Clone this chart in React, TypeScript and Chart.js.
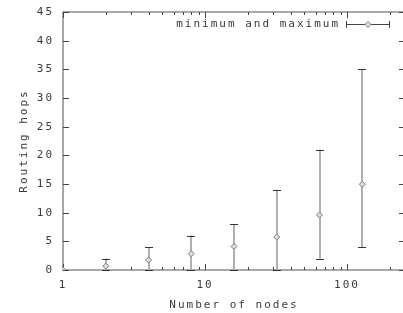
import React, { useEffect, useRef } from 'react';
import { Chart, registerables } from 'chart.js';

Chart.register(...registerables);

// ---- data ----
const nodes = [1, 2, 4, 8, 16, 32, 64, 128];
const avgHops = [0, 0.7, 1.75, 2.85, 4.1, 5.75, 9.6, 14.95];
const minHops = [0, 0, 0, 0, 0, 0, 2, 4];
const maxHops = [0, 2, 4, 6, 8, 14, 21, 35];
const xTickLabels = [1, 10, 100];
const xRange = [1, 256];
const yRange = [0, 45];
const yStep = 5;
const legendLabel = 'minimum and maximum';
const xTitle = 'Number of nodes';
const yTitle = 'Routing hops';

const FONT = '"DejaVu Sans Mono", "Liberation Mono", monospace';
const TEXT = '#3a3a3a';
const SPACING = '2px';

export default function App() {
  const ref = useRef<HTMLCanvasElement>(null);

  useEffect(() => {
    document.body.style.margin = '0';
    const canvas = ref.current!;

    const gnuPlugin = {
      id: 'gnu',
      beforeUpdate(chart: any) {
        chart.ctx.letterSpacing = SPACING;
      },
      beforeDraw(chart: any) {
        chart.ctx.letterSpacing = SPACING;
      },
      beforeDatasetsDraw(chart: any) {
        const { ctx, chartArea: a, scales } = chart;
        const x = scales.x;
        const y = scales.y;
        ctx.save();
        ctx.letterSpacing = '0px';

        // border box
        ctx.strokeStyle = '#8c8c8c';
        ctx.lineWidth = 1.5;
        ctx.strokeRect(a.left, a.top, a.right - a.left, a.bottom - a.top);

        // ticks (inward), log minor ticks on x
        ctx.strokeStyle = '#444';
        ctx.lineWidth = 1;
        ctx.beginPath();
        for (let d = 1; d <= xRange[1]; d *= 10) {
          for (let m = 1; m <= 9; m++) {
            const v = m * d;
            if (v < xRange[0] || v > xRange[1]) continue;
            const px = Math.round(x.getPixelForValue(v)) + 0.5;
            const len = m === 1 ? 6 : 3;
            ctx.moveTo(px, a.bottom);
            ctx.lineTo(px, a.bottom - len);
            ctx.moveTo(px, a.top);
            ctx.lineTo(px, a.top + len);
          }
        }
        y.ticks.forEach((t: any) => {
          const py = Math.round(y.getPixelForValue(t.value)) + 0.5;
          ctx.moveTo(a.left, py);
          ctx.lineTo(a.left + 6, py);
          ctx.moveTo(a.right, py);
          ctx.lineTo(a.right - 6, py);
        });
        ctx.stroke();

        // error bars
        nodes.forEach((n, i) => {
          if (minHops[i] === maxHops[i]) return;
          const px = Math.round(x.getPixelForValue(n));
          const y0 = y.getPixelForValue(minHops[i]);
          const y1 = y.getPixelForValue(maxHops[i]);
          ctx.strokeStyle = '#b0b0b0';
          ctx.lineWidth = 2;
          ctx.beginPath();
          ctx.moveTo(px, y0);
          ctx.lineTo(px, y1);
          ctx.stroke();
          ctx.strokeStyle = '#333';
          ctx.lineWidth = 1;
          ctx.beginPath();
          for (const yy of [y0, y1]) {
            const r = Math.round(yy) + 0.5;
            ctx.moveTo(px - 4, r);
            ctx.lineTo(px + 4, r);
          }
          ctx.stroke();
        });
        ctx.restore();
      },
      afterDraw(chart: any) {
        const { ctx } = chart;
        ctx.save();
        ctx.font = `11px ${FONT}`;
        ctx.fillStyle = TEXT;
        ctx.textBaseline = 'middle';

        // legend
        ctx.letterSpacing = SPACING;
        ctx.textAlign = 'left';
        const ly = 24;
        const lw = ctx.measureText(legendLabel).width;
        ctx.fillText(legendLabel, 338 - lw + 2, ly);
        ctx.letterSpacing = '0px';
        const l = 346, r = 390, c = (l + r) / 2;
        ctx.strokeStyle = '#444';
        ctx.lineWidth = 1;
        ctx.beginPath();
        ctx.moveTo(l, ly + 0.5);
        ctx.lineTo(r, ly + 0.5);
        ctx.moveTo(l + 0.5, ly - 3);
        ctx.lineTo(l + 0.5, ly + 4);
        ctx.moveTo(r - 0.5, ly - 3);
        ctx.lineTo(r - 0.5, ly + 4);
        ctx.stroke();
        ctx.fillStyle = '#dddddd';
        ctx.strokeStyle = '#808080';
        ctx.beginPath();
        ctx.moveTo(c - 3, ly + 0.5);
        ctx.lineTo(c, ly - 2.5);
        ctx.lineTo(c + 3, ly + 0.5);
        ctx.lineTo(c, ly + 3.5);
        ctx.closePath();
        ctx.fill();
        ctx.stroke();
        ctx.restore();
      },
    };

    const chart = new Chart(canvas, {
      type: 'scatter',
      data: {
        datasets: [
          {
            label: legendLabel,
            data: nodes.map((n, i) => ({ x: n, y: avgHops[i] })),
            pointStyle: 'rectRot',
            pointRadius: 3,
            pointBackgroundColor: '#dddddd',
            pointBorderColor: '#808080',
            pointBorderWidth: 1,
            showLine: false,
          },
        ],
      },
      options: {
        responsive: false,
        animation: false,
        events: [],
        layout: { padding: { top: 12, right: 4, left: 0, bottom: 0 } },
        plugins: {
          legend: { display: false },
          tooltip: { enabled: false },
        },
        scales: {
          x: {
            type: 'logarithmic',
            min: xRange[0],
            max: xRange[1],
            grid: { display: false, drawTicks: false },
            border: { display: false },
            afterBuildTicks: (scale: any) => {
              scale.ticks = xTickLabels.map((v) => ({ value: v, major: true }));
            },
            afterFit: (scale: any) => {
              scale.height = 43;
              scale.paddingLeft = 0;
              scale.paddingRight = 0;
            },
            ticks: {
              autoSkip: false,
              maxRotation: 0,
              padding: 9,
              color: TEXT,
              font: { family: FONT, size: 11 },
              callback: (v: any) => String(v),
            },
            title: {
              display: true,
              text: xTitle,
              color: TEXT,
              font: { family: FONT, size: 11 },
              padding: { top: 0, bottom: 1 },
            },
          },
          y: {
            min: yRange[0],
            max: yRange[1],
            grid: { display: false, drawTicks: false },
            border: { display: false },
            afterFit: (scale: any) => {
              scale.width = 63;
              scale.paddingTop = 0;
              scale.paddingBottom = 0;
            },
            ticks: {
              stepSize: yStep,
              padding: 9,
              color: TEXT,
              font: { family: FONT, size: 11 },
            },
            title: {
              display: true,
              text: yTitle,
              color: TEXT,
              font: { family: FONT, size: 11 },
              padding: { top: 18, bottom: 0 },
            },
          },
        },
      },
      plugins: [gnuPlugin],
    } as any);

    return () => chart.destroy();
  }, []);

  return (
    <div style={{ width: 403, height: 313, overflow: 'hidden', position: 'relative' }}>
      <canvas ref={ref} width={410} height={313} style={{ display: 'block', width: 410, height: 313 }} />
    </div>
  );
}
